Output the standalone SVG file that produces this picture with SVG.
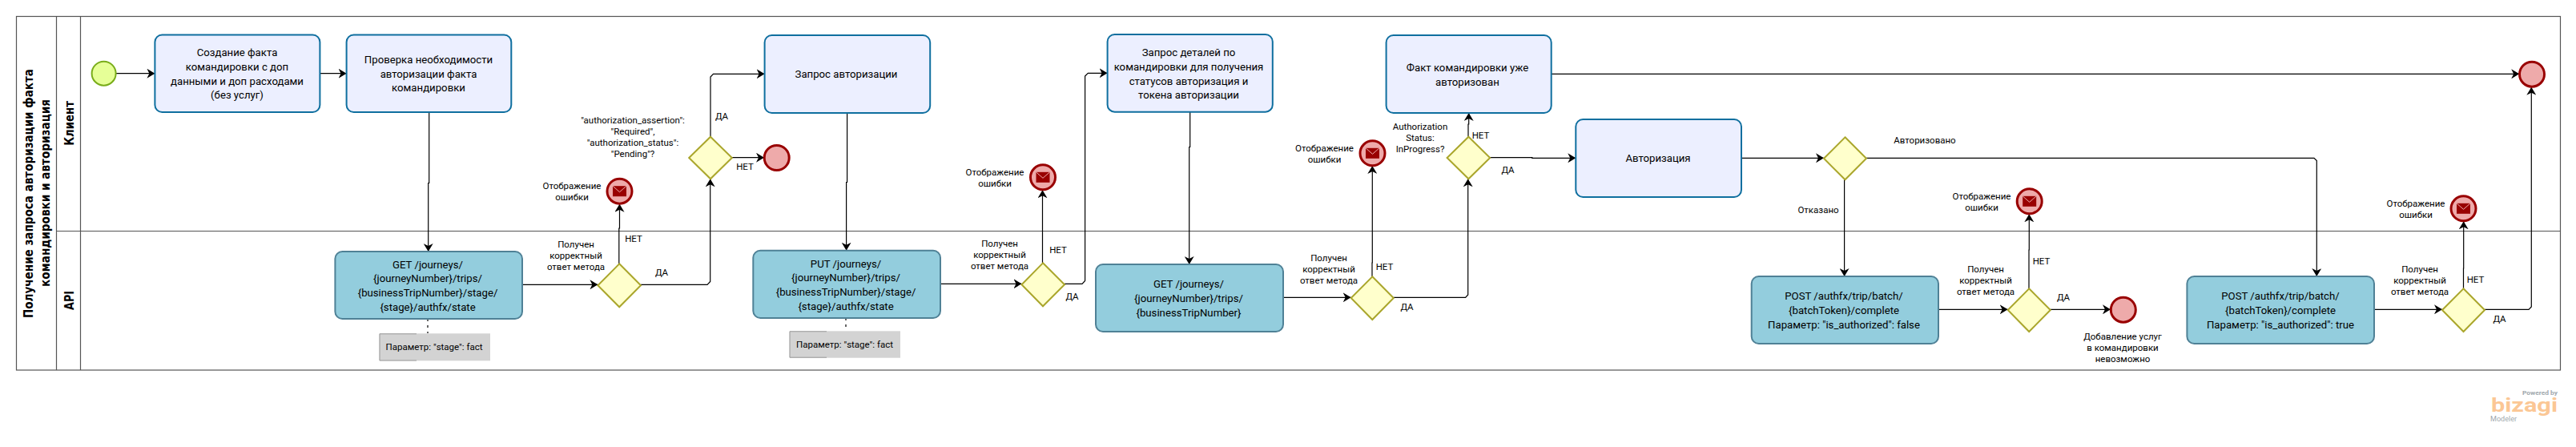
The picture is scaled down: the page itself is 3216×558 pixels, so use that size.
<svg xmlns="http://www.w3.org/2000/svg" width="3216" height="558" viewBox="0 0 3216 558">
<style>
text{font-family:Roboto,"Open Sans","Liberation Sans",sans-serif;fill:#000;text-anchor:middle}
.t{font-size:13.2px}
.l{font-size:11.5px}
.h{font-family:"DejaVu Sans",sans-serif;font-weight:bold;font-size:15.5px}
.task{fill:#ecefff;stroke:#0f6f9f;stroke-width:2}
.api{fill:#93cddd;stroke:#4f8196;stroke-width:2}
.gw{fill:#ffffcc;stroke:#aaa62c;stroke-width:2}
.end{fill:#eeaaaa;stroke:#990000;stroke-width:3}
.env{fill:#990000}
.envl{fill:none;stroke:#eeaaaa;stroke-width:1}
.c{fill:none;stroke:#000;stroke-width:1.2}
.pool{fill:none;stroke:#555;stroke-width:1.2}
</style>
<defs>
<marker id="a" markerUnits="userSpaceOnUse" markerWidth="11" markerHeight="12" refX="10" refY="6" orient="auto"><path d="M0 0L10 6L0 12L3 6Z" fill="#000"/></marker>
<g id="err"><circle r="15.5" class="end"/><rect x="-8.5" y="-6.5" width="17" height="13" class="env"/><path d="M-8.5 -6.5L0 1L8.5 -6.5" class="envl"/></g>
</defs>
<rect width="3216" height="558" fill="#fff"/>
<g id="pool">
<rect x="20.5" y="20.5" width="3176" height="441.5" class="pool"/>
<path d="M70.5 20.5V462M100.5 20.5V462M70.5 288.5H3196.5" class="pool"/>
<text class="h" textLength="311" lengthAdjust="spacingAndGlyphs" transform="translate(41,241.5) rotate(-90)">Получение запроса авторизации факта</text>
<text class="h" textLength="234" lengthAdjust="spacingAndGlyphs" transform="translate(62,241) rotate(-90)">командировки и авторизация</text>
<text class="h" textLength="55.7" lengthAdjust="spacingAndGlyphs" transform="translate(92,154) rotate(-90)">Клиент</text>
<text class="h" textLength="24" lengthAdjust="spacingAndGlyphs" transform="translate(92,375) rotate(-90)">API</text>
</g>
<g id="connectors">
<path class="c" marker-end="url(#a)" d="M145 91.7H193.4"/>
<path class="c" marker-end="url(#a)" d="M399.5 91.7H432.6"/>
<path class="c" marker-end="url(#a)" d="M535.7 140V228.5H534.7V314"/>
<path class="c" stroke-dasharray="3 5" d="M534 398V416"/>
<path class="c" marker-end="url(#a)" d="M652 355.3H746.4"/>
<path class="c" marker-end="url(#a)" d="M772.8 329.3V285H773.5V254.7"/>
<path class="c" marker-end="url(#a)" d="M800 355.3H883L886.7 351.5V223.3"/>
<path class="c" marker-end="url(#a)" d="M887 170.7V96L890.5 92.3H954.6"/>
<path class="c" marker-end="url(#a)" d="M913.8 196.7H954"/>
<path class="c" marker-end="url(#a)" d="M1057.6 141V227.5H1056.6V312.7"/>
<path class="c" stroke-dasharray="3 5" d="M1056 397V413"/>
<path class="c" marker-end="url(#a)" d="M1174 354.3H1275.5"/>
<path class="c" marker-end="url(#a)" d="M1301.5 328.3V237.3"/>
<path class="c" marker-end="url(#a)" d="M1329 354.3H1351L1354.6 350.5V95L1358.3 91.3H1382.6"/>
<path class="c" marker-end="url(#a)" d="M1485.7 139.7V183.5H1484.7V330"/>
<path class="c" marker-end="url(#a)" d="M1602 371.3H1686.7"/>
<path class="c" marker-end="url(#a)" d="M1713 345.3V328H1713.3V207"/>
<path class="c" marker-end="url(#a)" d="M1739.8 371.3H1829.6L1832.7 368V223.3"/>
<path class="c" marker-end="url(#a)" d="M1833 170.7V155H1833.7V141"/>
<path class="c" marker-end="url(#a)" d="M1936.7 92.3H3145.2"/>
<path class="c" marker-end="url(#a)" d="M1860.2 196.7H1912.8V197.3H1967.3"/>
<path class="c" marker-end="url(#a)" d="M2174 197.3H2277"/>
<path class="c" marker-end="url(#a)" d="M2330 197.3H2889L2892.3 200.5V345"/>
<path class="c" marker-end="url(#a)" d="M2302.6 224.3V345"/>
<path class="c" marker-end="url(#a)" d="M2420 386.3H2506.7"/>
<path class="c" marker-end="url(#a)" d="M2533 360.3V312H2533.3V267.3"/>
<path class="c" marker-end="url(#a)" d="M2559.8 386.3H2635"/>
<path class="c" marker-end="url(#a)" d="M2964 386.3H3049"/>
<path class="c" marker-end="url(#a)" d="M3075.5 360.3V335H3075.7V276.3"/>
<path class="c" marker-end="url(#a)" d="M3102 386.3H3157L3160.3 383V108.7"/>
</g>
<g id="start"><circle cx="129.6" cy="91.7" r="15" fill="#e6ff97" stroke="#79ad1a" stroke-width="2"/></g>
<g id="task1"><rect class="task" x="193.4" y="43.5" width="206" height="96.5" rx="9"/><text class="t"><tspan x="296" y="70">Создание факта</tspan><tspan x="296" y="88">командировки с доп</tspan><tspan x="296" y="106">данными и доп расходами</tspan><tspan x="296" y="123">(без услуг)</tspan></text></g>
<g id="task2"><rect class="task" x="432.6" y="43.5" width="205.7" height="96.5" rx="9"/><text class="t"><tspan x="535" y="79">Проверка необходимости</tspan><tspan x="535" y="97">авторизации факта</tspan><tspan x="535" y="114">командировки</tspan></text></g>
<g id="api1"><rect class="api" x="418.4" y="314" width="233.6" height="84" rx="9"/><text class="t"><tspan x="534" y="335">GET /journeys/</tspan><tspan x="534" y="352">{journeyNumber}/trips/</tspan><tspan x="534" y="370">{businessTripNumber}/stage/</tspan><tspan x="534" y="388">{stage}/authfx/state</tspan></text></g>
<g id="note1"><rect x="473.5" y="416.3" width="138.5" height="34" fill="#d3d3d3"/><path d="M520 416.8H474V450H520" fill="none" stroke="#999"/><text class="l" x="542" y="437">Параметр: "stage": fact</text></g>
<g id="gw1"><path class="gw" d="M773.2 329.3L800 356.3L773.2 383.3L746.4 356.3Z"/><text class="l"><tspan x="719" y="309">Получен</tspan><tspan x="719" y="323">корректный</tspan><tspan x="719" y="337">ответ метода</tspan></text></g>
<g id="err1"><use href="#err" x="773.5" y="238.7"/><text class="l"><tspan x="714" y="236">Отображение</tspan><tspan x="714" y="250">ошибки</tspan></text></g>
<text class="l" x="791" y="302">НЕТ</text>
<text class="l" x="826" y="344">ДА</text>
<g id="gw2"><path class="gw" d="M887 170.7L913.8 197L887 223.3L860.2 197Z"/><text class="l"><tspan x="790" y="154">"authorization_assertion":</tspan><tspan x="790" y="168">"Required",</tspan><tspan x="790" y="182">"authorization_status":</tspan><tspan x="790" y="196">"Pending"?</tspan></text></g>
<text class="l" x="901" y="149">ДА</text>
<text class="l" x="930" y="212">НЕТ</text>
<g id="end1"><circle class="end" cx="969.7" cy="197" r="15.5"/></g>
<g id="task3"><rect class="task" x="954.6" y="44" width="206.6" height="97" rx="9"/><text class="t" x="1056.5" y="97">Запрос авторизации</text></g>
<g id="api2"><rect class="api" x="940.3" y="312.7" width="233.7" height="84.3" rx="9"/><text class="t"><tspan x="1056" y="334">PUT /journeys/</tspan><tspan x="1056" y="351">{journeyNumber}/trips/</tspan><tspan x="1056" y="369">{businessTripNumber}/stage/</tspan><tspan x="1056" y="387">{stage}/authfx/state</tspan></text></g>
<g id="note2"><rect x="985.7" y="413.3" width="138.3" height="33.4" fill="#d3d3d3"/><path d="M1032 413.8H986V446.2H1032" fill="none" stroke="#999"/><text class="l" x="1054.5" y="434">Параметр: "stage": fact</text></g>
<g id="gw3"><path class="gw" d="M1302 328.3L1329 355.3L1302 382.3L1275.5 355.3Z"/><text class="l"><tspan x="1248" y="308">Получен</tspan><tspan x="1248" y="322">корректный</tspan><tspan x="1248" y="336">ответ метода</tspan></text></g>
<g id="err2"><use href="#err" x="1302" y="221.3"/><text class="l"><tspan x="1242" y="219">Отображение</tspan><tspan x="1242" y="233">ошибки</tspan></text></g>
<text class="l" x="1321" y="316">НЕТ</text>
<text class="l" x="1338.5" y="374">ДА</text>
<g id="task4"><rect class="task" x="1382.6" y="43" width="206.2" height="96.7" rx="9"/><text class="t"><tspan x="1484" y="70">Запрос деталей по</tspan><tspan x="1484" y="88">командировки для получения</tspan><tspan x="1484" y="106">статусов авторизация и</tspan><tspan x="1484" y="123">токена авторизации</tspan></text></g>
<g id="api3"><rect class="api" x="1368" y="330" width="234" height="84" rx="9"/><text class="t"><tspan x="1484" y="359">GET /journeys/</tspan><tspan x="1484" y="377">{journeyNumber}/trips/</tspan><tspan x="1484" y="395">{businessTripNumber}</tspan></text></g>
<g id="gw4"><path class="gw" d="M1713.3 345.3L1739.8 372L1713.3 399L1686.7 372Z"/><text class="l"><tspan x="1659" y="326">Получен</tspan><tspan x="1659" y="340">корректный</tspan><tspan x="1659" y="354">ответ метода</tspan></text></g>
<g id="err3"><use href="#err" x="1713.5" y="191.3"/><text class="l"><tspan x="1653.5" y="189">Отображение</tspan><tspan x="1653.5" y="203">ошибки</tspan></text></g>
<text class="l" x="1728.5" y="337">НЕТ</text>
<text class="l" x="1756.5" y="387">ДА</text>
<g id="gw5"><path class="gw" d="M1833.4 170.7L1860.2 197L1833.4 223.3L1806.6 197Z"/><text class="l"><tspan x="1773" y="162">Authorization</tspan><tspan x="1773" y="176">Status:</tspan><tspan x="1773" y="190">InProgress?</tspan></text></g>
<text class="l" x="1848.5" y="173">НЕТ</text>
<text class="l" x="1882.5" y="216">ДА</text>
<g id="task5"><rect class="task" x="1730.6" y="44" width="206.1" height="97" rx="9"/><text class="t"><tspan x="1832" y="89">Факт командировки уже</tspan><tspan x="1832" y="107">авторизован</tspan></text></g>
<g id="task6"><rect class="task" x="1967.3" y="149" width="206.7" height="97" rx="9"/><text class="t" x="2070" y="202">Авторизация</text></g>
<g id="gw6"><path class="gw" d="M2303.5 171.3L2330 197.8L2303.5 224.3L2277 197.8Z"/></g>
<text class="l" x="2270" y="266">Отказано</text>
<text class="l" x="2403" y="179">Авторизовано</text>
<g id="api4"><rect class="api" x="2186.7" y="345" width="233.3" height="84" rx="9"/><text class="t"><tspan x="2302" y="374">POST /authfx/trip/batch/</tspan><tspan x="2302" y="392">{batchToken}/complete</tspan><tspan x="2302" y="410">Параметр: "is_authorized": false</tspan></text></g>
<g id="gw7"><path class="gw" d="M2533.2 360.3L2559.8 387L2533.2 414L2506.7 387Z"/><text class="l"><tspan x="2479" y="340">Получен</tspan><tspan x="2479" y="354">корректный</tspan><tspan x="2479" y="368">ответ метода</tspan></text></g>
<g id="err4"><use href="#err" x="2533.7" y="251.3"/><text class="l"><tspan x="2474" y="249">Отображение</tspan><tspan x="2474" y="263">ошибки</tspan></text></g>
<text class="l" x="2548.5" y="330">НЕТ</text>
<text class="l" x="2576" y="375">ДА</text>
<g id="end2"><circle class="end" cx="2650.8" cy="386.7" r="15.5"/><text class="l"><tspan x="2650" y="424">Добавление услуг</tspan><tspan x="2650" y="438">в командировки</tspan><tspan x="2650" y="452">невозможно</tspan></text></g>
<g id="api5"><rect class="api" x="2730.4" y="345" width="233.6" height="84" rx="9"/><text class="t"><tspan x="2847" y="374">POST /authfx/trip/batch/</tspan><tspan x="2847" y="392">{batchToken}/complete</tspan><tspan x="2847" y="410">Параметр: "is_authorized": true</tspan></text></g>
<g id="gw8"><path class="gw" d="M3075.5 360.3L3102 387L3075.5 414L3049 387Z"/><text class="l"><tspan x="3021" y="340">Получен</tspan><tspan x="3021" y="354">корректный</tspan><tspan x="3021" y="368">ответ метода</tspan></text></g>
<g id="err5"><use href="#err" x="3075.5" y="260.3"/><text class="l"><tspan x="3016" y="258">Отображение</tspan><tspan x="3016" y="272">ошибки</tspan></text></g>
<text class="l" x="3090.5" y="353">НЕТ</text>
<text class="l" x="3120.5" y="402">ДА</text>
<g id="end3"><circle class="end" cx="3161" cy="92.7" r="15.5"/></g>
<g id="logo"><text x="3171" y="493" textLength="44" lengthAdjust="spacingAndGlyphs" style="font-size:8px;fill:#a0a8ad;font-weight:bold">Powered by</text><text x="3151.5" y="513.5" textLength="83" lengthAdjust="spacingAndGlyphs" style="font-size:24px;fill:#fbc795;font-weight:bold">bizagi</text><text x="3125.5" y="526" textLength="33" lengthAdjust="spacingAndGlyphs" style="font-size:9px;fill:#a0a8ad">Modeler</text></g>
</svg>
